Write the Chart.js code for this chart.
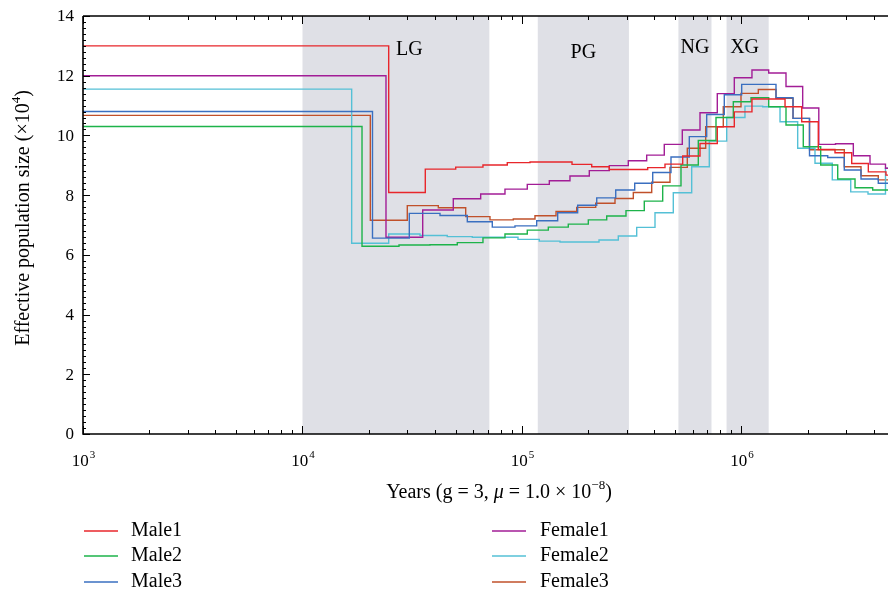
<!DOCTYPE html>
<html>
<head>
<meta charset="utf-8">
<script src="https://cdn.jsdelivr.net/npm/chart.js@4.4.1/dist/chart.umd.min.js"></script>
<style>
  html, body { margin: 0; padding: 0; background: #fff; }
  canvas { display: block; }
</style>
</head>
<body>
<canvas id="psmcChart" width="888" height="593"></canvas>
<script>
// PSMC curves: time in years, Ne in units of 10^4 (each value holds until the next time)
const male1Years = [1000, 24700, 36260, 49890, 66400, 85710, 108800, 169000, 207800, 249900, 373800, 448200, 539700, 647100, 775800, 927400, 1116000, 1579000, 1881000, 2238000, 2667000, 3178000, 3783000, 4552000, 4650000];
const male1Ne = [13.0, 8.09, 8.87, 8.94, 9.01, 9.09, 9.11, 9.03, 8.95, 8.86, 8.92, 9.04, 9.31, 9.73, 10.29, 10.79, 11.22, 10.96, 10.46, 9.53, 9.42, 9.06, 8.78, 8.67, 8.67];

const male2Years = [1000, 18670, 27520, 38090, 50720, 66400, 83650, 105700, 131800, 162500, 200500, 243200, 297700, 360700, 437500, 530100, 635600, 765300, 917700, 1105000, 1330000, 1595000, 1912000, 2295000, 2744000, 3290000, 3960000, 4650000];
const male2Ne = [10.3, 6.29, 6.33, 6.34, 6.41, 6.57, 6.70, 6.83, 6.93, 7.03, 7.17, 7.30, 7.48, 7.80, 8.31, 9.01, 9.83, 10.6, 11.13, 11.26, 10.96, 10.35, 9.62, 9.01, 8.54, 8.25, 8.17, 8.17];

const male3Years = [1000, 20840, 30660, 42310, 56340, 73220, 92910, 116700, 145400, 179300, 219000, 267300, 326200, 394000, 477300, 578400, 694100, 834900, 1002000, 1436000, 1717000, 2041000, 2471000, 2940000, 3503000, 4200000, 4650000];
const male3Ne = [10.8, 6.56, 7.39, 7.32, 7.11, 6.93, 6.97, 7.14, 7.41, 7.66, 7.91, 8.17, 8.40, 8.76, 9.28, 9.96, 10.70, 11.36, 11.71, 11.26, 10.57, 9.32, 9.26, 8.84, 8.54, 8.40, 8.40];

const female1Years = [1000, 24010, 35290, 48640, 64830, 83650, 105700, 133200, 165400, 202600, 249900, 305000, 369900, 444900, 537400, 647100, 775800, 927400, 1116000, 1330000, 1595000, 1900000, 2250000, 2681000, 3232000, 3850000, 4529000, 4650000];
const female1Ne = [12.0, 6.59, 7.50, 7.88, 8.04, 8.20, 8.36, 8.48, 8.64, 8.82, 8.99, 9.15, 9.34, 9.70, 10.18, 10.76, 11.40, 11.93, 12.19, 12.09, 11.64, 10.92, 9.70, 9.72, 9.32, 9.04, 8.90, 8.90];

const female2Years = [1000, 16750, 24700, 34300, 45660, 59380, 95890, 119900, 149000, 224300, 274600, 333100, 403600, 489000, 593100, 713300, 856300, 1037000, 1249000, 1498000, 1803000, 2162000, 2592000, 3145000, 3770000, 4529000, 4650000];
const female2Ne = [11.55, 6.39, 6.70, 6.65, 6.61, 6.59, 6.52, 6.46, 6.43, 6.50, 6.63, 6.92, 7.41, 8.08, 8.95, 9.81, 10.6, 10.98, 10.96, 10.46, 9.57, 9.07, 8.51, 8.11, 8.04, 8.90, 8.90];

const female3Years = [1000, 20370, 30020, 41570, 55400, 71470, 91280, 114600, 142900, 177500, 216700, 265300, 321500, 389900, 472400, 566400, 686800, 826200, 994800, 1193000, 1436000, 1717000, 2041000, 2940000, 3503000, 4200000, 4650000];
const female3Ne = [10.67, 7.16, 7.65, 7.58, 7.28, 7.17, 7.20, 7.31, 7.45, 7.59, 7.73, 7.89, 8.09, 8.43, 8.93, 9.57, 10.29, 10.96, 11.41, 11.54, 11.24, 10.57, 9.52, 8.95, 8.65, 8.51, 8.51];

// shaded periods
const regionNames = ['LG', 'PG', 'NG', 'XG'];
const regionStart = [1.0e4, 1.18e5, 5.16e5, 8.55e5];
const regionEnd = [7.1e4, 3.07e5, 7.3e5, 1.33e6];

// ticks
const xTickValues = [1e3, 1e4, 1e5, 1e6];
const xTickExponents = ['3', '4', '5', '6'];
const yTickValues = [0, 2, 4, 6, 8, 10, 12, 14];

const X_MIN = 1000, X_MAX = 4.65e6;
const FONT = "'Liberation Serif', 'DejaVu Serif', serif";

const series = [
  { label: 'Male1', years: male1Years, ne: male1Ne, color: '#e8262b' },
  { label: 'Male2', years: male2Years, ne: male2Ne, color: '#1db34a' },
  { label: 'Male3', years: male3Years, ne: male3Ne, color: '#3a6fc0' },
  { label: 'Female1', years: female1Years, ne: female1Ne, color: '#a21d96' },
  { label: 'Female2', years: female2Years, ne: female2Ne, color: '#54c0d6' },
  { label: 'Female3', years: female3Years, ne: female3Ne, color: '#c0502a' }
];

function drawPow(ctx, base, exp, cx, y, size) {
  ctx.font = size + 'px ' + FONT;
  const wb = ctx.measureText(base).width;
  ctx.font = Math.round(size * 0.65) + 'px ' + FONT;
  const we = ctx.measureText(exp).width;
  let x = cx - (wb + we) / 2;
  ctx.textAlign = 'left';
  ctx.textBaseline = 'alphabetic';
  ctx.font = size + 'px ' + FONT;
  ctx.fillText(base, x, y);
  ctx.font = Math.round(size * 0.65) + 'px ' + FONT;
  ctx.fillText(exp, x + wb + 1, y - size * 0.45);
}

// draws text pieces left to right, centred on cx
function drawPieces(ctx, pieces, cx, y, size) {
  let total = 0;
  const widths = pieces.map(p => {
    ctx.font = (p.italic ? 'italic ' : '') + (p.sup ? Math.round(size * 0.65) : size) + 'px ' + FONT;
    const w = ctx.measureText(p.t).width;
    total += w;
    return w;
  });
  let x = cx - total / 2;
  ctx.textAlign = 'left';
  ctx.textBaseline = 'alphabetic';
  pieces.forEach((p, i) => {
    ctx.font = (p.italic ? 'italic ' : '') + (p.sup ? Math.round(size * 0.65) : size) + 'px ' + FONT;
    ctx.fillText(p.t, x, p.sup ? y - size * 0.45 : y);
    x += widths[i];
  });
}

const framePlugin = {
  id: 'frame',
  beforeDatasetsDraw(chart) {
    const ctx = chart.ctx, a = chart.chartArea, xs = chart.scales.x;
    ctx.save();
    ctx.fillStyle = '#dfe0e6';
    for (let i = 0; i < regionNames.length; i++) {
      const x0 = xs.getPixelForValue(regionStart[i]);
      const x1 = xs.getPixelForValue(regionEnd[i]);
      ctx.fillRect(x0, a.top, x1 - x0, a.bottom - a.top);
    }
    ctx.restore();
  },
  afterDraw(chart) {
    const ctx = chart.ctx, a = chart.chartArea;
    const xs = chart.scales.x, ys = chart.scales.y;
    ctx.save();
    ctx.fillStyle = '#000';
    ctx.strokeStyle = '#000';

    // period labels
    ctx.font = '20px ' + FONT;
    ctx.textAlign = 'center';
    ctx.textBaseline = 'middle';
    const labelY = [50, 53, 48, 48];
    const labelShift = [1, 0, 0, -3];
    for (let i = 0; i < regionNames.length; i++) {
      let cx = (xs.getPixelForValue(regionStart[i]) + xs.getPixelForValue(regionEnd[i])) / 2;
      if (i === 0) cx = xs.getPixelForValue(regionEnd[i]) - 81;
      ctx.fillText(regionNames[i], cx + labelShift[i], labelY[i]);
    }

    // frame lines
    ctx.lineWidth = 1.6;
    ctx.beginPath();
    ctx.moveTo(a.left, a.top);
    ctx.lineTo(a.right, a.top);
    ctx.moveTo(a.left, a.top);
    ctx.lineTo(a.left, a.bottom);
    ctx.lineTo(a.right, a.bottom);
    ctx.stroke();

    // x ticks (bottom and top, inward)
    ctx.lineWidth = 1;
    ctx.beginPath();
    for (let d = 3; d <= 6; d++) {
      for (let k = 1; k <= 9; k++) {
        const v = k * Math.pow(10, d);
        if (v > X_MAX) break;
        const px = Math.round(xs.getPixelForValue(v)) + 0.5;
        const len = k === 1 ? 8 : 4;
        ctx.moveTo(px, a.bottom);
        ctx.lineTo(px, a.bottom - len);
        ctx.moveTo(px, a.top);
        ctx.lineTo(px, a.top + len);
      }
    }
    // y ticks (inward), minor every 0.2
    for (let i = 0; i <= 70; i++) {
      const v = i * 0.2;
      const py = Math.round(ys.getPixelForValue(v)) + 0.5;
      const len = i % 10 === 0 ? 7 : 3;
      ctx.moveTo(a.left, py);
      ctx.lineTo(a.left + len, py);
    }
    ctx.stroke();

    // y tick labels
    ctx.font = '17px ' + FONT;
    ctx.textAlign = 'right';
    ctx.textBaseline = 'middle';
    yTickValues.forEach(v => ctx.fillText(String(v), 74, ys.getPixelForValue(v) + 1));

    // x tick labels
    xTickValues.forEach((v, i) => drawPow(ctx, '10', xTickExponents[i], xs.getPixelForValue(v), 466, 17));

    // x title
    drawPieces(ctx, [
      { t: 'Years (g = 3, ' },
      { t: 'μ', italic: true },
      { t: ' = 1.0 × 10' },
      { t: '−8', sup: true },
      { t: ')' }
    ], 499, 498, 20);

    // y title
    ctx.save();
    ctx.translate(29, 218);
    ctx.rotate(-Math.PI / 2);
    drawPieces(ctx, [
      { t: 'Effective population size (×10' },
      { t: '4', sup: true },
      { t: ')' }
    ], 0, 0, 20);
    ctx.restore();

    // legend, two columns
    const legendCols = [[84, 131], [492, 540]];
    const legendRows = [531, 556, 582];
    ctx.font = '20px ' + FONT;
    ctx.textAlign = 'left';
    ctx.textBaseline = 'middle';
    series.forEach((s, i) => {
      const col = legendCols[Math.floor(i / 3)];
      const y = legendRows[i % 3];
      ctx.strokeStyle = s.color;
      ctx.lineWidth = 1.6;
      ctx.beginPath();
      ctx.moveTo(col[0], y);
      ctx.lineTo(col[0] + 34, y);
      ctx.stroke();
      ctx.fillStyle = '#000';
      ctx.fillText(s.label, col[1], y);
    });
    ctx.restore();
  }
};

new Chart(document.getElementById('psmcChart'), {
  type: 'line',
  data: {
    datasets: series.map(s => ({
      label: s.label,
      data: s.years.map((yr, i) => ({ x: yr, y: s.ne[i] })),
      borderColor: s.color,
      borderWidth: 1.4,
      pointRadius: 0,
      fill: false,
      stepped: true
    }))
  },
  options: {
    responsive: false,
    animation: false,
    devicePixelRatio: 1,
    layout: { padding: { top: 16, right: 0, left: 0, bottom: 0 } },
    plugins: { legend: { display: false }, tooltip: { enabled: false } },
    scales: {
      x: {
        type: 'logarithmic',
        min: X_MIN,
        max: X_MAX,
        grid: { display: false },
        border: { display: false },
        ticks: { display: false },
        afterFit: s => { s.height = 593 - 434; }
      },
      y: {
        min: 0,
        max: 14,
        grid: { display: false },
        border: { display: false },
        ticks: { display: false },
        afterFit: s => { s.width = 83; }
      }
    }
  },
  plugins: [framePlugin]
});
</script>
</body>
</html>
